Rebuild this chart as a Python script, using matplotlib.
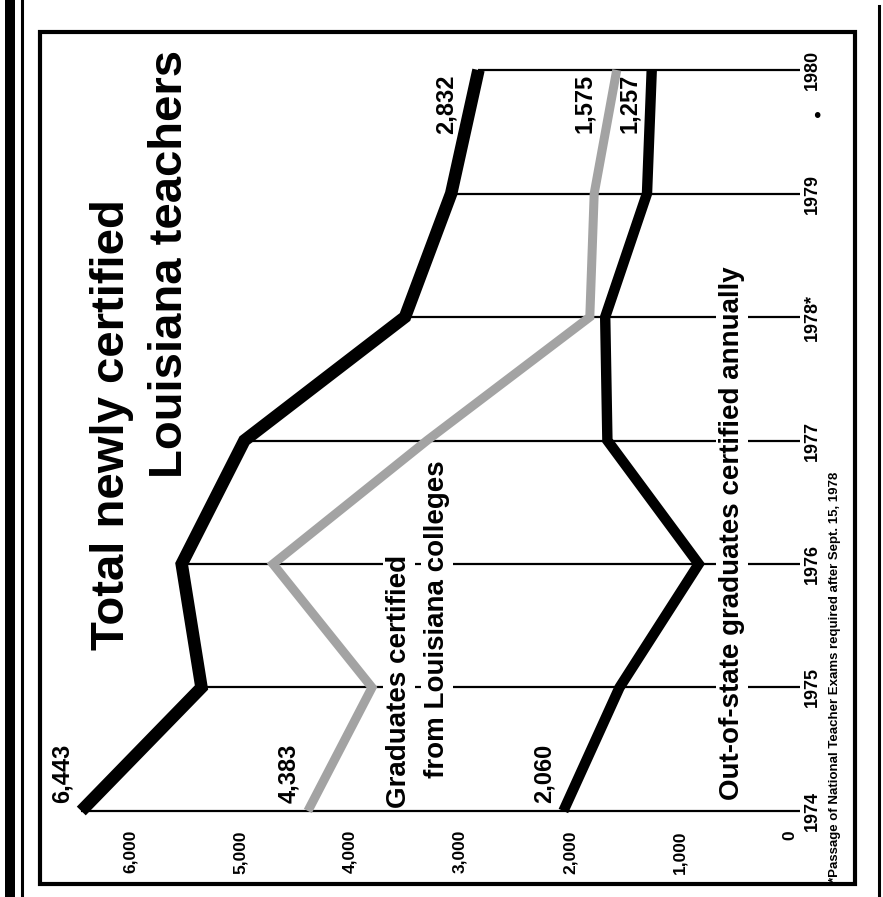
import matplotlib.pyplot as plt
from matplotlib.lines import Line2D
from matplotlib.patches import Rectangle

years = [1974, 1975, 1976, 1977, 1978, 1979, 1980]
year_labels = ["1974", "1975", "1976", "1977", "1978*", "1979", "1980"]
total = [6443, 5350, 5530, 4960, 3500, 3080, 2832]
louisiana = [4383, 3800, 4700, 3300, 1820, 1780, 1575]
out_of_state = [2060, 1550, 830, 1660, 1680, 1300, 1257]
value_ticks = [0, 1000, 2000, 3000, 4000, 5000, 6000]
value_tick_labels = ["0", "1,000", "2,000", "3,000", "4,000", "5,000", "6,000"]

W, H = 883, 897
FONT = ["Liberation Sans", "DejaVu Sans"]


# helpers: pixel position in the picture -> data coords (for text placement)
def px(x):
    return (790 - x) / 0.11


def py(y):
    return 1974 + (811 - y) / 123.5


fig = plt.figure(figsize=(W / 100, H / 100), dpi=100)
ax = fig.add_axes([0, 0, 1, 1])
# the whole chart is turned a quarter turn: values run right-to-left, years bottom-to-top
ax.set_xlim(px(0), px(W))
ax.set_ylim(py(H), py(0))
ax.axis("off")

# --- year lines from the total line down to the axis ---
ax.hlines(years[1:], -90, total[1:], color="black", lw=1.6, zorder=1)
ax.hlines(years[0], -90, total[0], color="black", lw=1.6, zorder=2.5)

# --- series ---
ax.plot(louisiana, years, color="#a3a3a3", lw=6.5, solid_joinstyle="miter",
        solid_capstyle="butt", zorder=3)
ax.plot(total, years, color="black", lw=9, solid_joinstyle="miter",
        solid_capstyle="butt", zorder=4)
ax.plot(out_of_state, years, color="black", lw=7.5, solid_joinstyle="miter",
        solid_capstyle="butt", zorder=4)

# --- axis labels ---
for v, lab in zip(value_ticks, value_tick_labels):
    ax.text(v, py(830), lab, rotation=90, ha="center", va="top",
            fontsize=12.5, fontweight="bold", family=FONT)
for yr, lab in zip(years, year_labels):
    ax.text(px(812), yr, lab, rotation=90, ha="center", va="center",
            fontsize=13, fontweight="bold", family=FONT)
ax.text(px(817), py(117), "\u2022", ha="center", va="center", fontsize=14)

# --- title ---
ax.text(px(112), py(650), "Total newly certified", rotation=90, ha="center",
        va="bottom", fontsize=34, fontweight="bold", family=FONT)
ax.text(px(170), py(478), "Louisiana teachers", rotation=90, ha="center",
        va="bottom", fontsize=34, fontweight="bold", family=FONT)

# --- series names (white boxes cut the year lines) ---
box = dict(fc="white", ec="none", pad=2.5)
ax.text(px(399), py(808), "Graduates certified", rotation=90, ha="center",
        va="bottom", fontsize=20, fontweight="bold", family=FONT, bbox=box, zorder=2)
ax.text(px(437), py(778), "from Louisiana colleges", rotation=90, ha="center",
        va="bottom", fontsize=20, fontweight="bold", family=FONT, bbox=box, zorder=2)
ax.text(px(732), py(800), "Out-of-state graduates certified annually", rotation=90,
        ha="center", va="bottom", fontsize=20, fontweight="bold", family=FONT,
        bbox=dict(fc="white", ec="none", pad=2), zorder=2)

# --- end values ---
for v, lab in [(total[0], "6,443"), (louisiana[0], "4,383"), (out_of_state[0], "2,060")]:
    ax.annotate(lab, (v, years[0]), xytext=(-14, 6), textcoords="offset points",
                rotation=90, ha="center", va="bottom", fontsize=17,
                fontweight="bold", family=FONT)
for v, lab, dx in [(total[-1], "2,832", -23), (louisiana[-1], "1,575", -23),
                   (out_of_state[-1], "1,257", -16)]:
    ax.annotate(lab, (v, years[-1]), xytext=(dx, -3), textcoords="offset points",
                rotation=90, ha="center", va="top", fontsize=17,
                fontweight="bold", family=FONT)

# --- footnote ---
ax.text(px(835), py(882), "*Passage of National Teacher Exams required after Sept. 15, 1978",
        rotation=90, ha="center", va="bottom", fontsize=9.5, fontweight="bold", family=FONT)

# --- frames ---
fig.add_artist(Rectangle((40 / W, 1 - 884 / H), (855 - 40) / W, (884 - 32) / H,
                         transform=fig.transFigure, fill=False, ec="black", lw=3))
fig.add_artist(Rectangle((5 / W, 0), 10 / W, 1, transform=fig.transFigure,
                         fc="black", ec="none"))
fig.add_artist(Line2D([21.5 / W, 21.5 / W], [0, 1], transform=fig.transFigure,
                      color="black", lw=2.2))
fig.add_artist(Line2D([879 / W, 879 / W], [0, 1 - 6 / H], transform=fig.transFigure,
                      color="black", lw=2.2))

fig.savefig("out.png", dpi=100)
